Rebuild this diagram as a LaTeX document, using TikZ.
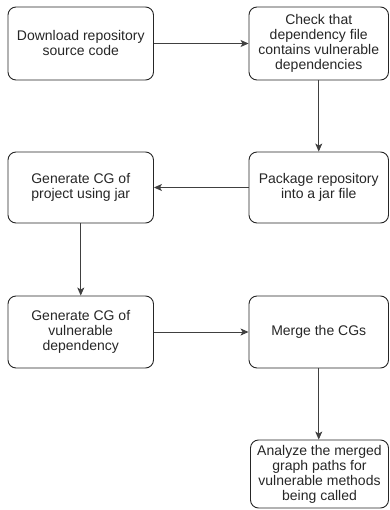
\documentclass[tikz,border=0pt]{standalone}
\usepackage{fontspec}
\setmainfont{Liberation Sans}
\usetikzlibrary{arrows.meta}
\tikzset{
  box/.style={draw=black!85, line width=0.9pt, rounded corners=8pt, align=center,
    text=black!85, inner sep=2pt, font=\fontsize{14}{15}\selectfont},
  conn/.style={draw=black!75, line width=0.9pt,
    -{Stealth[length=8pt,width=7pt,inset=2pt]}},
}
\begin{document}
\begin{tikzpicture}[x=1pt,y=-1pt]
\useasboundingbox (0,0) rectangle (389,510);
\node[box, minimum width=145.5pt, minimum height=73pt] (a) at (80.75,43.5) {Download repository\\source code};
\node[box, minimum width=139.5pt, minimum height=73pt] (b) at (318.75,43.5) {Check that\\dependency file\\contains vulnerable\\dependencies};
\node[box, minimum width=139.5pt, minimum height=71pt] (c) at (318.75,187.5) {Package repository\\into a jar file};
\node[box, minimum width=145.5pt, minimum height=71pt] (d) at (80.75,187.5) {Generate CG of\\project using jar};
\node[box, minimum width=145.5pt, minimum height=72pt] (e) at (80.75,332) {Generate CG of\\vulnerable\\dependency};
\node[box, minimum width=139.5pt, minimum height=72pt] (f) at (318.75,332) {Merge the CGs};
\node[box, minimum width=138pt, minimum height=68pt] (g) at (319.5,474) {Analyze the merged\\graph paths for\\vulnerable methods\\being called};
\draw[conn] (a) -- (b);
\draw[conn] (b) -- (c);
\draw[conn] (c) -- (d);
\draw[conn] (d) -- (e);
\draw[conn] (e) -- (f);
\draw[conn] (f.south) -- (f.south |- g.north);
\end{tikzpicture}
\end{document}
